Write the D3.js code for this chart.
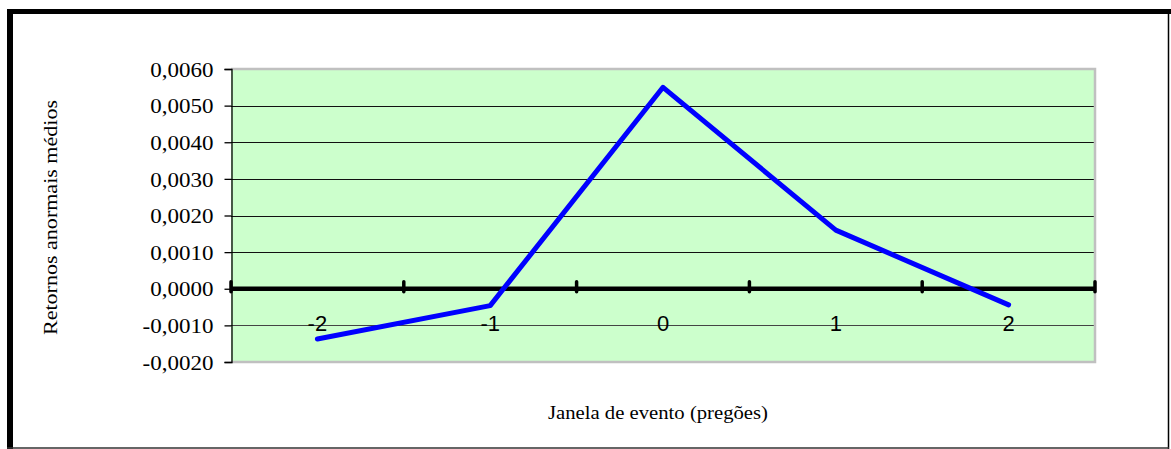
<!DOCTYPE html>
<html>
<head>
<meta charset="utf-8">
<script src="https://cdn.jsdelivr.net/npm/d3@7"></script>
<style>
  html, body { margin: 0; padding: 0; background: #fff; }
  svg { display: block; }
</style>
</head>
<body>
<script>
const categories = ["-2", "-1", "0", "1", "2"];
const values = [-0.00137, -0.00046, 0.0055, 0.0016, -0.00044];
const yTicks = [-0.002, -0.001, 0, 0.001, 0.002, 0.003, 0.004, 0.005, 0.006];
const yTitle = "Retornos anormais médios";
const xTitle = "Janela de evento (pregões)";

const W = 1171, H = 449;
const plot = { left: 231, right: 1095, top: 69, bottom: 362 };
const serif = "'Liberation Serif', 'Times New Roman', serif";

const svg = d3.select("body").append("svg").attr("width", W).attr("height", H);

// outer frame
svg.append("line").attr("x1", 10).attr("x2", 10).attr("y1", 9).attr("y2", 449)
  .attr("stroke", "#000").attr("stroke-width", 6);
svg.append("line").attr("x1", 7).attr("x2", 1171).attr("y1", 11.5).attr("y2", 11.5)
  .attr("stroke", "#000").attr("stroke-width", 5);
svg.append("line").attr("x1", 1168.5).attr("x2", 1168.5).attr("y1", 14).attr("y2", 449)
  .attr("stroke", "#000").attr("stroke-width", 1.5);
svg.append("line").attr("x1", 7).attr("x2", 1169).attr("y1", 448).attr("y2", 448)
  .attr("stroke", "#333").attr("stroke-width", 1.5);

const x = d3.scaleBand().domain(categories).range([plot.left, plot.right]).padding(0);
const y = d3.scaleLinear().domain([-0.002, 0.006]).range([plot.bottom, plot.top]);

// plot background
svg.append("rect").attr("x", plot.left).attr("y", plot.top)
  .attr("width", plot.right - plot.left).attr("height", plot.bottom - plot.top)
  .attr("fill", "#ccffcc");

// gridlines
svg.append("g").selectAll("line")
  .data(yTicks.filter(t => t !== 0 && t !== 0.006 && t !== -0.002))
  .join("line")
  .attr("x1", plot.left).attr("x2", plot.right)
  .attr("y1", d => Math.round(y(d)) + 0.5).attr("y2", d => Math.round(y(d)) + 0.5)
  .attr("stroke", d => d < 0 ? "#444" : "#111").attr("stroke-width", 1);

// gray border top/right/bottom
svg.append("path")
  .attr("d", `M${plot.left},${plot.top} H${plot.right} V${plot.bottom} H${plot.left}`)
  .attr("fill", "none").attr("stroke", "#c0c0c0").attr("stroke-width", 2.5);

// y axis
const fmt = d => d3.format(".4f")(d).replace(".", ",").replace("−", "-");
const yAxis = d3.axisLeft(y).tickValues(yTicks).tickSize(7).tickPadding(11).tickFormat(fmt);
const gy = svg.append("g").attr("transform", `translate(${plot.left + 0.5},0)`).call(yAxis);
gy.select(".domain").attr("stroke", "#000").attr("stroke-width", 1.3);
gy.selectAll(".tick line").attr("stroke", "#000").attr("stroke-width", 1.3);
gy.selectAll(".tick text")
  .attr("font-family", serif)
  .attr("font-size", 20).attr("fill", "#000").attr("dy", "0.36em")
  .each(function () {
    const w = this.getComputedTextLength();
    d3.select(this).attr("textLength", w * 1.15).attr("lengthAdjust", "spacingAndGlyphs");
  });

// x axis at zero (thick)
const edges = categories.map(c => x(c)).concat([plot.right]);
svg.append("line").attr("x1", plot.left).attr("x2", plot.right)
  .attr("y1", y(0)).attr("y2", y(0)).attr("stroke", "#000").attr("stroke-width", 4.5);
svg.append("g").selectAll("line").data(edges).join("line")
  .attr("x1", d => d).attr("x2", d => d)
  .attr("y1", y(0) - 7).attr("y2", y(0) + 3)
  .attr("stroke", "#000").attr("stroke-width", 3.5).attr("stroke-linecap", "round");

// category labels
svg.append("g").selectAll("text").data(categories).join("text")
  .attr("x", d => x(d) + x.bandwidth() / 2)
  .attr("y", y(0) + 42.5)
  .attr("text-anchor", "middle")
  .attr("font-family", "'Liberation Sans', Arial, sans-serif")
  .attr("font-size", 22).attr("fill", "#000")
  .text(d => d);

// line
const line = d3.line()
  .x((d, i) => x(categories[i]) + x.bandwidth() / 2)
  .y(d => y(d));
svg.append("path").datum(values).attr("d", line)
  .attr("fill", "none").attr("stroke", "#0000ff").attr("stroke-width", 5)
  .attr("stroke-linejoin", "round").attr("stroke-linecap", "round");

// titles
svg.append("text")
  .attr("transform", `translate(57,217.5) rotate(-90)`)
  .attr("text-anchor", "middle")
  .attr("font-family", serif)
  .attr("font-size", 18).attr("fill", "#000")
  .attr("textLength", 235).attr("lengthAdjust", "spacingAndGlyphs")
  .text(yTitle);
svg.append("text")
  .attr("x", 658).attr("y", 419)
  .attr("text-anchor", "middle")
  .attr("font-family", serif)
  .attr("font-size", 19).attr("fill", "#000")
  .attr("textLength", 220).attr("lengthAdjust", "spacingAndGlyphs")
  .text(xTitle);
</script>
</body>
</html>
